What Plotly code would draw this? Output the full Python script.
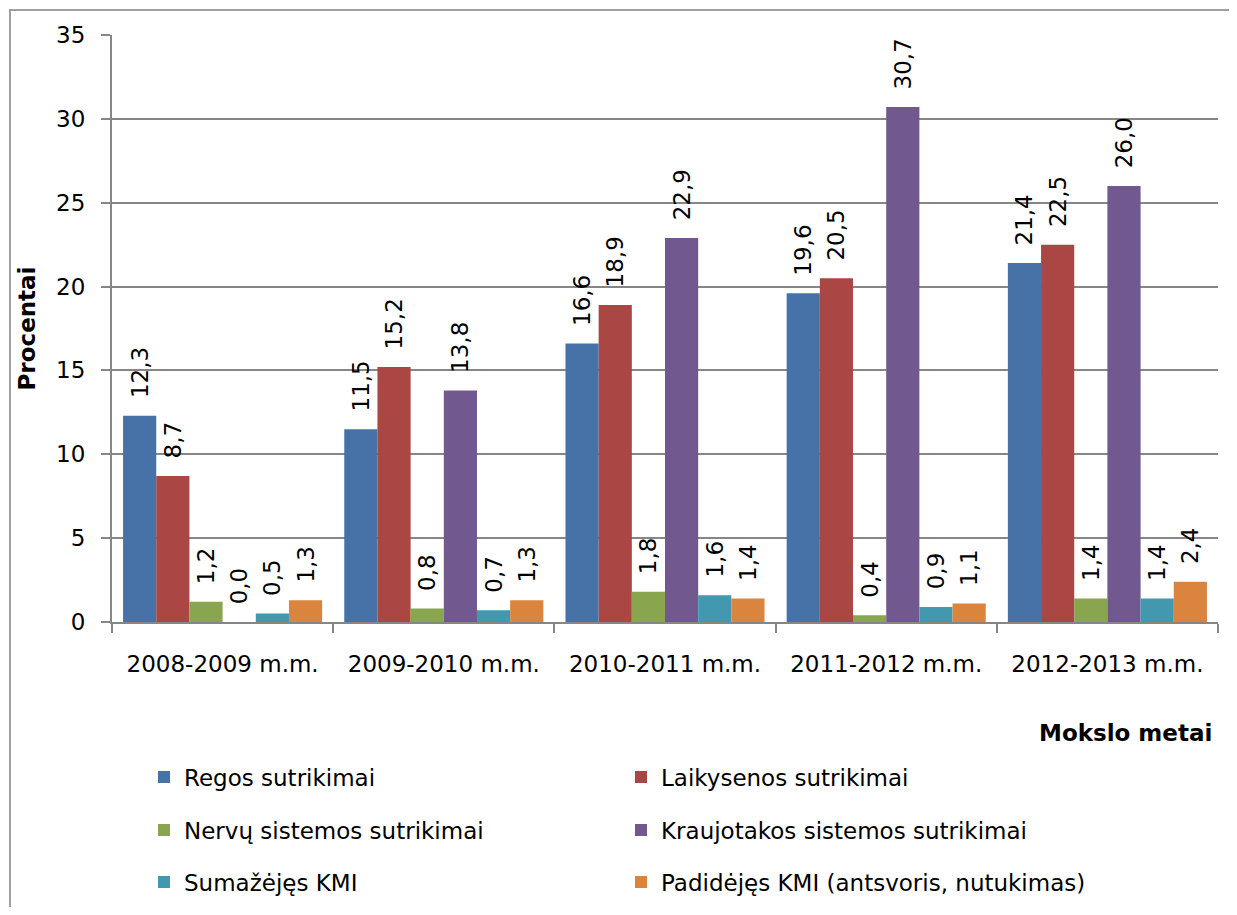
import plotly.graph_objects as go

categories = ["2008-2009 m.m.", "2009-2010 m.m.", "2010-2011 m.m.", "2011-2012 m.m.", "2012-2013 m.m."]

regos = [12.3, 11.5, 16.6, 19.6, 21.4]
laikysenos = [8.7, 15.2, 18.9, 20.5, 22.5]
nervu = [1.2, 0.8, 1.8, 0.4, 1.4]
kraujotakos = [0.0, 13.8, 22.9, 30.7, 26.0]
sumazejes = [0.5, 0.7, 1.6, 0.9, 1.4]
padidejes = [1.3, 1.3, 1.4, 1.1, 2.4]

series_names = [
    "Regos sutrikimai",
    "Laikysenos sutrikimai",
    "Nervų sistemos sutrikimai",
    "Kraujotakos sistemos sutrikimai",
    "Sumažėjęs KMI",
    "Padidėjęs KMI (antsvoris, nutukimas)",
]
series_values = [regos, laikysenos, nervu, kraujotakos, sumazejes, padidejes]
colors = ["#4672A8", "#AA4643", "#89A54E", "#71588F", "#4198AF", "#DB843D"]
legend_ids = ["legend", "legend", "legend2", "legend2", "legend3", "legend3"]

# page body has an 8px default margin; lay the figure out in page pixels
OFF = 8
W, H = 1237 - 2 * OFF, 915 - 2 * OFF
PL, PR, PT, PB = 112, 1218, 35, 622  # plot area in page pixels
ML, MT = PL - OFF, PT - OFF
MR = W - (PR - OFF)
MB = H - (PB - OFF)
PW = PR - PL
PH = PB - PT

def px2x(px):
    return (px - PL) / PW

def px2y(py):
    return (PB - py) / PH

FONT = "DejaVu Sans"
FS = 23

fig = go.Figure()
for name, vals, col, lg in zip(series_names, series_values, colors, legend_ids):
    fig.add_trace(go.Bar(
        x=categories, y=vals, name=name,
        marker=dict(color=col, line=dict(width=0)),
        texttemplate="\u00a0\u00a0%{y:.1f}",
        textposition="outside",
        textangle=-90,
        textfont=dict(family=FONT, size=FS, color="#000000"),
        constraintext="none",
        cliponaxis=False,
        legend=lg,
    ))

legend_common = dict(
    orientation="h", xanchor="left", yanchor="middle",
    font=dict(family=FONT, size=FS, color="#000000"),
    entrywidth=432, bgcolor="rgba(0,0,0,0)", borderwidth=0,
    itemclick=False, itemdoubleclick=False,
)
x_leg = px2x(144)
fig.update_layout(
    legend=dict(x=x_leg, y=px2y(777), **legend_common),
    legend2=dict(x=x_leg, y=px2y(830), **legend_common),
    legend3=dict(x=x_leg, y=px2y(882), **legend_common),
)

fig.update_layout(
    width=W, height=H,
    margin=dict(l=ML, r=MR, t=MT, b=MB, autoexpand=False),
    paper_bgcolor="white", plot_bgcolor="white",
    separators=",.",
    barmode="group", bargap=0.1, bargroupgap=0,
    font=dict(family=FONT, size=FS, color="#000000"),
    xaxis=dict(
        type="category", tickson="boundaries", ticks="outside", ticklen=9,
        tickcolor="#868686", tickwidth=2, showline=True, linecolor="#868686", linewidth=2,
        tickfont=dict(family=FONT, size=FS, color="#000000"), ticklabelstandoff=20,
        showgrid=False, fixedrange=True,
    ),
    yaxis=dict(
        range=[0, 35], dtick=5, tick0=0, ticks="outside", ticklen=9,
        tickcolor="#868686", tickwidth=2, showline=True, linecolor="#868686", linewidth=2,
        showgrid=True, gridcolor="#868686", gridwidth=2, zeroline=False,
        tickfont=dict(family=FONT, size=FS, color="#000000"), ticklabelstandoff=11,
        fixedrange=True,
    ),
    annotations=[
        dict(text="<b>Procentai</b>", x=px2x(26), y=0.5, xref="paper", yref="paper",
             textangle=-90, showarrow=False, xanchor="center", yanchor="middle",
             font=dict(family=FONT, size=FS, color="#000000")),
        dict(text="<b>Mokslo metai</b>", x=px2x(1214), y=px2y(733), xref="paper", yref="paper",
             showarrow=False, xanchor="right", yanchor="middle",
             font=dict(family=FONT, size=FS, color="#000000")),
    ],
    shapes=[
        dict(type="rect", xref="paper", yref="paper",
             x0=px2x(10), x1=px2x(1600), y0=px2y(1200), y1=px2y(10),
             line=dict(color="#A0A0A0", width=2), fillcolor="rgba(0,0,0,0)", layer="below"),
    ],
)

fig.write_html("out.html")
